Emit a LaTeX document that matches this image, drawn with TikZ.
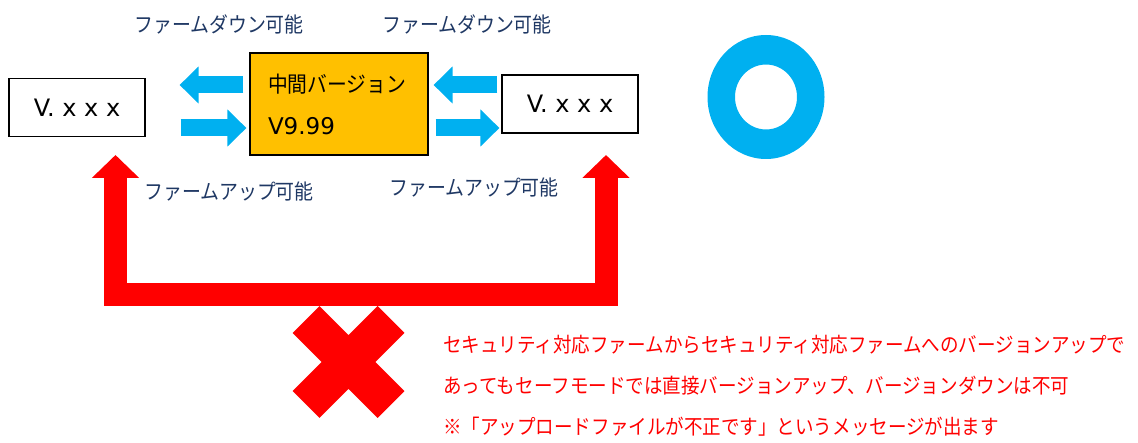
\documentclass[tikz,border=0pt]{standalone}
\usepackage{fontspec}
\usepackage{tikz}
\usetikzlibrary{arrows.meta, positioning, calc}
\newfontfamily\jpfont[FakeStretch=0.9]{Noto Sans CJK JP}
\newfontfamily\latfont{DejaVu Sans}
\definecolor{fwblue}{RGB}{0,176,240}
\definecolor{fwnavy}{RGB}{31,56,100}
\definecolor{fworange}{RGB}{255,192,0}

\begin{document}
\begin{tikzpicture}[x=1pt,y=-1pt,
        verbox/.style={rectangle,draw,line width=1.2pt,fill=white,minimum width=136pt,minimum height=58pt,
            font=\fontsize{24}{28}\selectfont\latfont},
        midbox/.style={rectangle,draw,line width=1.2pt,fill=fworange,minimum width=178pt,minimum height=102pt,
            text width=142pt,inner xsep=18pt,align=left,font=\fontsize{22}{42}\selectfont\jpfont},
        oklabel/.style={text=fwnavy,inner sep=0pt,font=\fontsize{21}{25}\selectfont\jpfont},
        bluearrow/.style={-{Triangle[width=36pt,length=19pt]},line width=17pt,draw=fwblue},
        redarrow/.style={{Triangle[width=46pt,length=23pt]}-{Triangle[width=46pt,length=23pt]},line width=23pt,draw=red},
        ngtext/.style={text=red,inner sep=0pt,align=left,font=\fontsize{20.6}{41}\selectfont\jpfont}]
        \useasboundingbox (0,0) rectangle (1138,443);

        % version boxes
        \node at (77,107.5) [verbox] (oldL) {V. x x x};
        \node at (339,104) [midbox] (mid) {中間バージョン\\{\fontsize{23}{42}\selectfont\latfont V9.99}};
        \node at (570,104) [verbox] (newR) {V. x x x};

        % via the middle version: ok
        \draw[bluearrow, shorten <=6pt, shorten >=34pt]  ([yshift=19pt]mid.west) -- ([yshift=19pt]mid.west -| oldL.east);
        \draw[bluearrow, shorten <=35pt, shorten >=3pt]  ([yshift=-24pt]mid.west -| oldL.east) -- ([yshift=-24pt]mid.west);
        \draw[bluearrow, shorten <=4pt, shorten >=5pt]   ([yshift=19pt]mid.east -| newR.west) -- ([yshift=19pt]mid.east);
        \draw[bluearrow, shorten <=7pt, shorten >=2pt]   ([yshift=-24pt]mid.east) -- ([yshift=-24pt]mid.east -| newR.west);

        \node at (219,24) [oklabel] (downL) {ファームダウン可能};
        \node at (467,24) [oklabel] (downR) {ファームダウン可能};
        \node at (229,192) [oklabel] (upLlabel) {ファームアップ可能};
        \node at (474,188) [oklabel] (upRlabel) {ファームアップ可能};

        % ok mark
        \fill[fwblue, even odd rule] (766,97) ellipse [x radius=58.5, y radius=62]
                                     (766,97) ellipse [x radius=31, y radius=32.5];

        % direct update: ng
        \coordinate (upL) at (115.5,155);
        \coordinate (upR) at (606,155);
        \coordinate (barL) at (115.5,295);
        \draw[redarrow] (upL) -- (barL) -| (upR);

        \draw[red, line width=38pt] (306,319.5) -- (391,404.5)
                                    (391,319.5) -- (306,404.5);

        \node at (443,386) [ngtext, anchor=west] (ngnote) {セキュリティ対応ファームからセキュリティ対応ファームへのバージョンアップで\\
            あってもセーフモードでは直接バージョンアップ、バージョンダウンは不可\\
            ※「アップロードファイルが不正です」というメッセージが出ます};
\end{tikzpicture}
\end{document}
